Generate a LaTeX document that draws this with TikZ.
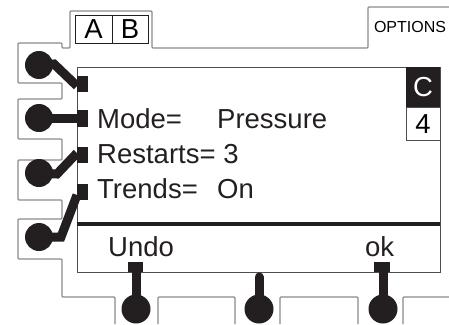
\documentclass[tikz,border=0pt]{standalone}
\usepackage{fontspec}
\setmainfont{Liberation Sans}
\usetikzlibrary{calc}

\definecolor{inkblack}{HTML}{231F20}
\definecolor{panelgray}{HTML}{8A8A8A}

\tikzset{
    panel/.style={panelgray, line width=1.1pt, rounded corners=1pt},
    lever/.style={inkblack, line width=9pt},
    knob/.style={fill=inkblack},
    marker/.style={fill=inkblack},
    bigfont/.style={font=\fontsize{27.5}{28}\selectfont},
    lcdtext/.style={anchor=base west, inner sep=0pt, bigfont, text=inkblack},
}

\begin{document}
\begin{tikzpicture}[x=1pt, y=-1pt]
    \useasboundingbox (0, 0) rectangle (449, 324);

    % panel outline with the tabs
    \draw[panel] (115, 324) |- (62, 297) |- (18, 259) |- (62, 219) |- (18, 200) |- (62, 160)
        |- (18, 139) |- (62, 99) |- (18, 83) |- (62, 43) |- (70, 48) |- (152, 11)
        |- (368, 48) |- (449, 7);
    \draw[panel] (158, 324) |- (235, 297) -- (235, 324);
    \draw[panel] (280, 324) |- (358, 297) -- (358, 324);
    \draw[panel] (403, 324) |- (449, 297);

    % tab labels
    \draw[inkblack, line width=0.8pt] (75, 15) rectangle (148, 43);
    \draw[inkblack, line width=0.8pt] (112, 15) -- (112, 43);
    \node[inner sep=0pt, bigfont] (tabA) at (93.5, 29.5) {A};
    \node[inner sep=0pt, bigfont] (tabB) at (130, 29.5) {B};
    \node[inner sep=0pt, font=\fontsize{16}{16}\selectfont] (options) at (410, 27) {OPTIONS};

    % display
    \draw[inkblack!80, line width=0.9pt] (77, 67) rectangle (440, 272);
    \draw[inkblack, line width=4pt] (77, 224) -- (440, 224);
    \fill[inkblack] (406, 67) rectangle (440, 107);
    \draw[inkblack!80, line width=0.9pt] (406, 107) rectangle (440, 140);
    \node[inner sep=0pt, text=white, bigfont] (pageC) at (423, 87) {C};
    \node[inner sep=0pt, bigfont] (page4) at (423, 124) {4};

    \node[lcdtext] (mode) at (97, 128) {Mode=};
    \node[lcdtext] (pressure) at (217, 128) {Pressure};
    \node[lcdtext] (restarts) at (97, 163) {Restarts= 3};
    \node[lcdtext] (trends) at (97, 198) {Trends=};
    \node[lcdtext] (on) at (217, 198) {On};
    \node[lcdtext] (undo) at (108, 256) {Undo};
    \node[lcdtext] (ok) at (365, 256) {ok};

    % markers
    \fill[marker] (77, 76) rectangle (88, 92);
    \fill[marker] (77, 110) rectangle (88, 127);
    \fill[marker] (77, 147) rectangle (88, 163);
    \fill[marker] (77, 184) rectangle (88, 200);
    \fill[marker] (128, 262) rectangle (143, 272);
    \fill[marker] (374, 262) rectangle (390, 272);

    % left keys
    \coordinate (K1) at (39, 65);
    \coordinate (K2) at (39, 118);
    \coordinate (K3) at (39, 173);
    \coordinate (K4) at (39, 237);
    \draw[lever] (K1) -- ($(K1) + (15, -1)$) -- (77, 86);
    \draw[lever] (K2) -- (77, 118);
    \draw[lever] (K3) -- ($(K3) + (18, 1)$) -- (77, 153);
    \draw[lever] (K4) -- ($(K4) + (22, 0)$) -- (77, 195);
    \foreach \k in {K1, K2, K3, K4}
        \fill[knob] (\k) circle (14);

    % bottom keys
    \coordinate (S1) at (136, 309);
    \coordinate (S2) at (259, 309);
    \coordinate (S3) at (383, 309);
    \draw[lever] (S1) -- (136, 272);
    \draw[lever, line cap=round] (S2) -- (259, 277);
    \draw[lever] (S3) -- (383, 272);
    \foreach \k in {S1, S2, S3}
        \fill[knob] (\k) circle (14.5);

\end{tikzpicture}
\end{document}
